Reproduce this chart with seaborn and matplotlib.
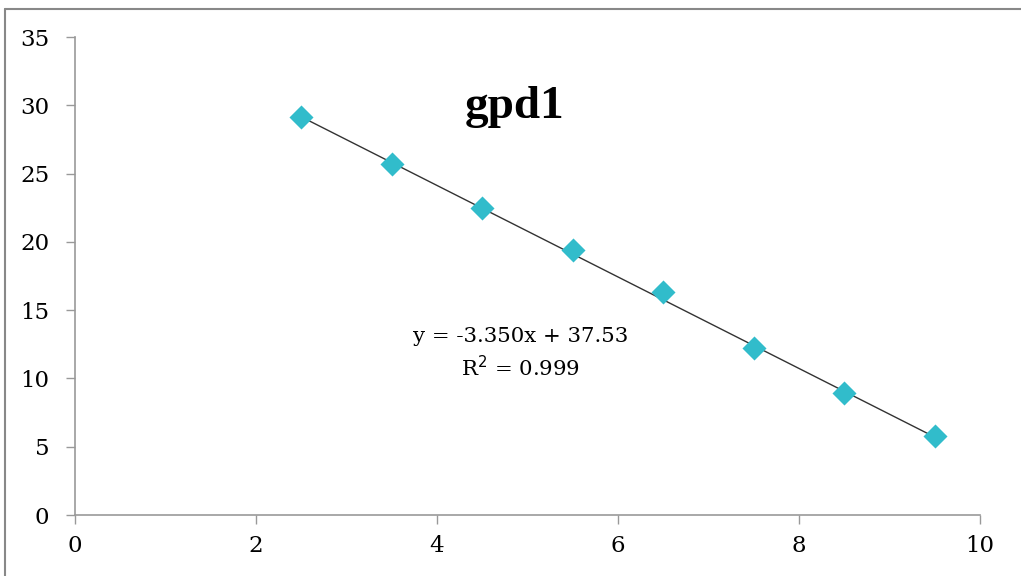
import numpy as np
import pandas as pd
import matplotlib
matplotlib.use("Agg")
import matplotlib.pyplot as plt
from matplotlib.lines import Line2D
import seaborn as sns

x_vals = [2.5, 3.5, 4.5, 5.5, 6.5, 7.5, 8.5, 9.5]
y_vals = [29.15, 25.7, 22.45, 19.4, 16.35, 12.2, 8.95, 5.8]
slope = -3.350
intercept = 37.53
r2 = 0.999
title = "gpd1"
x_ticks = [0, 2, 4, 6, 8, 10]
y_ticks = [0, 5, 10, 15, 20, 25, 30, 35]

sns.set_theme(style="white")
plt.rcParams['font.family'] = ['DejaVu Serif', 'Liberation Serif']

df = pd.DataFrame({"x": x_vals, "y": y_vals})

fig = plt.figure(figsize=(10.21, 5.76), dpi=100)
ax = fig.add_axes([75/1021, 61/576, 905/1021, 478/576])

fit_x = np.array([min(x_vals), max(x_vals)])
ax.plot(fit_x, slope * fit_x + intercept, color="#333333", lw=1.0, zorder=2)
sns.scatterplot(data=df, x="x", y="y", marker="D", s=150, color="#31BCCB",
                edgecolor="#31BCCB", linewidth=0, ax=ax, zorder=3)

ax.set_xlim(0, 10)
ax.set_ylim(0, 35)
ax.set_xticks(x_ticks)
ax.set_yticks(y_ticks)
ax.set_xlabel("")
ax.set_ylabel("")
for s in ["top", "right"]:
    ax.spines[s].set_visible(False)
for s in ["left", "bottom"]:
    ax.spines[s].set_color("#999999")
    ax.spines[s].set_linewidth(1.2)
ax.tick_params(axis="both", which="major", direction="out", length=6.5, width=1,
               color="#999999", labelsize=16.5, labelcolor="#000000", left=True, bottom=True)
ax.tick_params(axis="y", pad=12)
ax.tick_params(axis="x", pad=8)

ax.text(4.31, 29.9, title, fontsize=34, fontweight="bold", ha="left", va="center",
        color="black", family=["Liberation Serif"])
ax.text(4.92, 13.05, f"y = {slope:.3f}x + {intercept:.2f}", fontsize=15.3,
        ha="center", va="center", color="black")
ax.text(4.92, 10.8, f"R$^2$ = {r2:.3f}", fontsize=15.3, ha="center", va="center",
        color="black")

# outer chart border
fig.add_artist(Line2D([5/1021, 5/1021], [0, 1 - 9/576], transform=fig.transFigure,
                      color="#888888", lw=1.5))
fig.add_artist(Line2D([5/1021, 1], [1 - 9/576, 1 - 9/576], transform=fig.transFigure,
                      color="#888888", lw=1.5))

fig.savefig("out.png", dpi=100)
